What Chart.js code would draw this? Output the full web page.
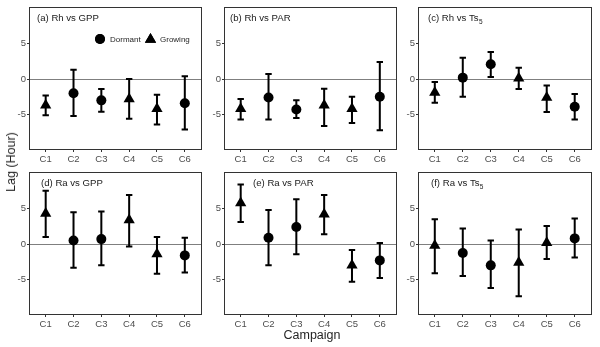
<!DOCTYPE html>
<html>
<head>
<meta charset="utf-8">
<script src="https://cdn.jsdelivr.net/npm/chart.js@4.4.0/dist/chart.umd.min.js"></script>
<style>
body { margin: 0; background: #fff; }
#wrap { position: relative; width: 600px; height: 347px; overflow: hidden; font-family: "Liberation Sans", Arial, sans-serif; }
canvas { position: absolute; }
.lab { position: absolute; color: #262626; font-size: 12.5px; white-space: nowrap; line-height: 14px; }
</style>
</head>
<body>
<div id="wrap">
	<canvas id="pa" width="208" height="170" style="left:0px;top:0px"></canvas>
	<canvas id="pb" width="208" height="170" style="left:195px;top:0px"></canvas>
	<canvas id="pc" width="209" height="170" style="left:389px;top:0px"></canvas>
	<canvas id="pd" width="208" height="170" style="left:0px;top:165px"></canvas>
	<canvas id="pe" width="208" height="170" style="left:195px;top:165px"></canvas>
	<canvas id="pf" width="209" height="170" style="left:389px;top:165px"></canvas>
	<div class="lab" style="left:312px;top:328px;transform:translateX(-50%)">Campaign</div>
	<div class="lab" style="left:11px;top:162px;transform:translate(-50%,-50%) rotate(-90deg)">Lag (Hour)</div>
</div>
<script>
var campaigns = ['C1', 'C2', 'C3', 'C4', 'C5', 'C6'];
var season = ['Growing', 'Dormant', 'Dormant', 'Growing', 'Growing', 'Dormant'];
var yTicks = [-5, 0, 5];

// lag estimate with lower / upper ends of the bars (hours)
var rhGppLag  = [-3.7, -2.0, -3.0, -2.8, -4.2, -3.4];
var rhGppLow  = [-5.1, -5.2, -4.6, -5.6, -6.4, -7.1];
var rhGppHigh = [-2.3, 1.3, -1.4, 0.0, -2.2, 0.4];

var rhParLag  = [-4.2, -2.6, -4.3, -3.7, -4.2, -2.5];
var rhParLow  = [-5.7, -5.7, -5.5, -6.6, -6.2, -7.2];
var rhParHigh = [-2.8, 0.7, -3.0, -1.35, -2.5, 2.4];

var rhTsLag  = [-1.9, 0.2, 2.1, 0.1, -2.6, -3.9];
var rhTsLow  = [-3.35, -2.5, 0.3, -1.4, -4.65, -5.7];
var rhTsHigh = [-0.4, 3.0, 3.8, 1.6, -0.9, -2.1];

var raGppLag  = [4.3, 0.5, 0.7, 3.4, -1.4, -1.6];
var raGppLow  = [1.0, -3.35, -3.0, -0.35, -4.2, -4.0];
var raGppHigh = [7.5, 4.5, 4.6, 6.9, 1.0, 0.9];

var raParLag  = [5.8, 0.9, 2.4, 4.2, -3.0, -2.3];
var raParLow  = [3.1, -3.0, -1.45, 1.4, -5.3, -4.8];
var raParHigh = [8.4, 4.8, 6.3, 6.9, -0.85, 0.15];

var raTsLag  = [-0.2, -1.25, -3.0, -2.6, 0.2, 0.8];
var raTsLow  = [-4.1, -4.5, -6.2, -7.35, -2.1, -1.9];
var raTsHigh = [3.5, 2.2, 0.5, 2.05, 2.55, 3.6];

var FONT = '"Liberation Sans", Arial, sans-serif';

function panelPlugin(low, high, title, sub, titleDx, showLegend) {
	return {
		id: 'panel',
		beforeDatasetsDraw: function(chart) {
			var c = chart.ctx, a = chart.chartArea;
			var xs = chart.scales.x, ys = chart.scales.y;
			c.save();
			// frame
			c.strokeStyle = '#333';
			c.lineWidth = 1;
			c.strokeRect(Math.round(a.left) + 0.5, Math.round(a.top) + 0.5,
				Math.round(a.right - a.left) - 1, Math.round(a.bottom - a.top) - 1);
			// error bars
			c.strokeStyle = '#000';
			c.lineWidth = 2;
			for (var i = 0; i < campaigns.length; i++) {
				var x = xs.getPixelForValue(i + 1);
				var y1 = ys.getPixelForValue(low[i]);
				var y2 = ys.getPixelForValue(high[i]);
				c.beginPath();
				c.moveTo(x, y1); c.lineTo(x, y2);
				c.moveTo(x - 3.2, y1); c.lineTo(x + 3.2, y1);
				c.moveTo(x - 3.2, y2); c.lineTo(x + 3.2, y2);
				c.stroke();
			}
			// panel title
			c.fillStyle = '#1a1a1a';
			c.font = '9.6px ' + FONT;
			c.textBaseline = 'alphabetic';
			c.textAlign = 'left';
			var tx = a.left + titleDx, ty = a.top + 14.5;
			c.fillText(title, tx, ty);
			if (sub) {
				var w = c.measureText(title).width;
				c.font = '6.5px ' + FONT;
				c.fillText(sub, tx + w + 0.3, ty + 2.5);
			}
			// legend
			if (showLegend) {
				var ly = a.top + 32.3;
				Chart.helpers.drawPoint(c, {pointStyle: 'circle', radius: 5, rotation: 0, borderWidth: 0}, a.left + 71, ly);
				c.fillStyle = '#000';
				c.fill();
				Chart.helpers.drawPoint(c, {pointStyle: 'triangle', radius: 6.5, rotation: 0, borderWidth: 0}, a.left + 121.5, ly + 0.5);
				c.fill();
				c.fillStyle = '#262626';
				c.font = '8px ' + FONT;
				c.textBaseline = 'middle';
				c.fillText('Dormant', a.left + 81, ly + 0.5);
				c.fillText('Growing', a.left + 131, ly + 0.5);
			}
			c.restore();
		}
	};
}

function makePanel(id, lag, low, high, title, sub, titleDx, showLegend) {
	var dormant = [], growing = [];
	for (var i = 0; i < campaigns.length; i++) {
		var pt = {x: i + 1, y: lag[i]};
		if (season[i] == 'Dormant') dormant.push(pt);
		else growing.push(pt);
	}

	new Chart(document.getElementById(id), {
		type: 'scatter',
		data: {
			datasets: [
				{
					label: 'Dormant',
					data: dormant,
					pointStyle: 'circle',
					pointRadius: 5,
					backgroundColor: '#000',
					borderColor: '#000',
					borderWidth: 0
				},
				{
					label: 'Growing',
					data: growing,
					pointStyle: 'triangle',
					pointRadius: 6.5,
					backgroundColor: '#000',
					borderColor: '#000',
					borderWidth: 0
				}
			]
		},
		options: {
			responsive: false,
			animation: false,
			events: [],
			layout: {padding: {top: 5, right: 3, left: 0, bottom: 0}},
			plugins: {legend: {display: false}, tooltip: {enabled: false}},
			scales: {
				x: {
					type: 'linear',
					min: 0.4,
					max: 6.6,
					afterBuildTicks: function(s) {
						s.ticks = campaigns.map(function(c, i) { return {value: i + 1}; });
					},
					afterFit: function(s) { s.height = 20; },
					ticks: {
						callback: function(v) { return campaigns[v - 1]; },
						color: '#4d4d4d',
						font: {family: FONT, size: 9.5},
						padding: 2,
						maxRotation: 0,
						autoSkip: false
					},
					grid: {drawOnChartArea: false, tickLength: 2, tickColor: '#333'},
					border: {display: false}
				},
				y: {
					min: -10,
					max: 10.2,
					afterBuildTicks: function(s) {
						s.ticks = yTicks.map(function(v) { return {value: v}; });
					},
					afterFit: function(s) { s.width = 29; },
					ticks: {color: '#4d4d4d', font: {family: FONT, size: 9.5}, padding: 1},
					grid: {
						color: function(ctx) { return ctx.tick && ctx.tick.value === 0 ? '#7f7f7f' : 'rgba(0,0,0,0)'; },
						tickColor: '#333',
						tickLength: 2,
						lineWidth: 1
					},
					border: {display: false}
				}
			}
		},
		plugins: [panelPlugin(low, high, title, sub, titleDx, showLegend)]
	});
}

makePanel('pa', rhGppLag, rhGppLow, rhGppHigh, '(a) Rh vs GPP', '', 8, true);
makePanel('pb', rhParLag, rhParLow, rhParHigh, '(b) Rh vs PAR', '', 6, false);
makePanel('pc', rhTsLag, rhTsLow, rhTsHigh, '(c) Rh vs Ts', '5', 10, false);
makePanel('pd', raGppLag, raGppLow, raGppHigh, '(d) Ra vs GPP', '', 12, false);
makePanel('pe', raParLag, raParLow, raParHigh, '(e) Ra vs PAR', '', 29, false);
makePanel('pf', raTsLag, raTsLow, raTsHigh, '(f) Ra vs Ts', '5', 13, false);
</script>
</body>
</html>
